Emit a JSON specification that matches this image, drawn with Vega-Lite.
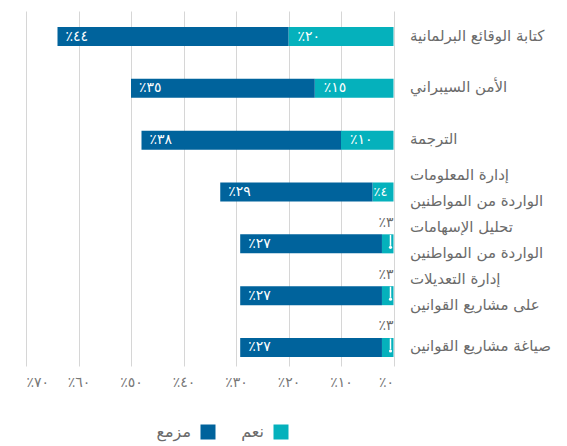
{
  "$schema": "https://vega.github.io/schema/vega-lite/v6.json",
  "width": 367.5,
  "height": 355,
  "autosize": {"type": "none"},
  "padding": {"left": 26, "top": 11, "right": 173.5, "bottom": 80},
  "config": {"view": {"stroke": null}, "font": "DejaVu Sans"},
  "data": {
    "values": [
      {"cat": "كتابة الوقائع البرلمانية", "series": "نعم", "value": 20, "label": "٪٢٠"},
      {"cat": "كتابة الوقائع البرلمانية", "series": "مزمع", "value": 44, "label": "٪٤٤"},
      {"cat": "الأمن السيبراني", "series": "نعم", "value": 15, "label": "٪١٥"},
      {"cat": "الأمن السيبراني", "series": "مزمع", "value": 35, "label": "٪٣٥"},
      {"cat": "الترجمة", "series": "نعم", "value": 10, "label": "٪١٠"},
      {"cat": "الترجمة", "series": "مزمع", "value": 38, "label": "٪٣٨"},
      {"cat": "إدارة المعلومات\nالواردة من المواطنين", "series": "نعم", "value": 4, "label": "٪٤"},
      {"cat": "إدارة المعلومات\nالواردة من المواطنين", "series": "مزمع", "value": 29, "label": "٪٢٩"},
      {"cat": "تحليل الإسهامات\nالواردة من المواطنين", "series": "نعم", "value": 2.2, "label": "٪٣"},
      {"cat": "تحليل الإسهامات\nالواردة من المواطنين", "series": "مزمع", "value": 27, "label": "٪٢٧"},
      {"cat": "إدارة التعديلات\nعلى مشاريع القوانين", "series": "نعم", "value": 2.2, "label": "٪٣"},
      {"cat": "إدارة التعديلات\nعلى مشاريع القوانين", "series": "مزمع", "value": 27, "label": "٪٢٧"},
      {"cat": "صياغة مشاريع القوانين", "series": "نعم", "value": 2.2, "label": "٪٣"},
      {"cat": "صياغة مشاريع القوانين", "series": "مزمع", "value": 27, "label": "٪٢٧"}
    ]
  },
  "transform": [
    {"stack": "value", "groupby": ["cat"], "sort": [{"field": "series", "order": "descending"}], "as": ["v0", "v1"]}
  ],
  "encoding": {
    "y": {
      "field": "cat",
      "type": "nominal",
      "sort": null,
      "scale": {"paddingInner": 0.633, "paddingOuter": 0.241, "align": 0.64},
      "axis": {
        "orient": "right",
        "title": null,
        "domain": false,
        "ticks": false,
        "labelAlign": "left",
        "labelPadding": 16,
        "labelFontSize": 15,
        "labelColor": "#6b6b6b",
        "labelLineHeight": 26,
        "labelLimit": 0,
        "labelOffset": {"condition": {"test": "indexof(datum.label, '\\n') >= 0", "value": -17}, "value": -1},
        "labelExpr": "split(datum.label, '\\n')"
      }
    }
  },
  "layer": [
    {
      "mark": {"type": "bar"},
      "encoding": {
        "x": {
          "field": "v0",
          "type": "quantitative",
          "scale": {"domain": [0, 70], "reverse": true, "nice": false},
          "axis": {
            "title": null,
            "values": [0, 10, 20, 30, 40, 50, 60, 70],
            "domain": false,
            "ticks": false,
            "grid": true,
            "gridColor": "#d6d6d6",
            "gridWidth": 1,
            "labelFontSize": 14,
            "labelColor": "#777777",
            "labelPadding": 9,
            "labelExpr": "'٪' + ['٠','١٠','٢٠','٣٠','٤٠','٥٠','٦٠','٧٠'][round(datum.value/10)]"
          }
        },
        "x2": {"field": "v1"},
        "color": {
          "field": "series",
          "type": "nominal",
          "scale": {"domain": ["مزمع", "نعم"], "range": ["#00639c", "#05b1bc"]},
          "legend": {
            "title": null,
            "orient": "none",
            "legendX": 174,
            "legendY": 413,
            "direction": "horizontal",
            "symbolType": "square",
            "symbolSize": 225,
            "symbolStrokeWidth": 0,
            "labelFontSize": 16,
            "labelColor": "#6b6b6b",
            "labelAlign": "right",
            "labelOffset": -25,
            "columnPadding": 25
          }
        }
      }
    },
    {
      "transform": [{"filter": "datum.series == 'مزمع'"}],
      "mark": {"type": "text", "align": "left", "dx": 8, "color": "white", "fontSize": 14},
      "encoding": {"x": {"field": "v1", "type": "quantitative"}, "text": {"field": "label"}}
    },
    {
      "transform": [{"filter": "datum.series == 'نعم' && datum.value >= 10"}],
      "mark": {"type": "text", "align": "left", "dx": 9, "color": "white", "fontSize": 14},
      "encoding": {"x": {"field": "v1", "type": "quantitative"}, "text": {"field": "label"}}
    },
    {
      "transform": [{"filter": "datum.series == 'نعم' && datum.value >= 3.5 && datum.value < 10"}],
      "mark": {"type": "text", "align": "left", "dx": 1, "color": "white", "fontSize": 13},
      "encoding": {"x": {"field": "v1", "type": "quantitative"}, "text": {"field": "label"}}
    },
    {
      "transform": [{"filter": "datum.series == 'نعم' && datum.value < 3.5"}],
      "mark": {"type": "text", "align": "right", "dy": -21, "color": "#6b6b6b", "fontSize": 14},
      "encoding": {"x": {"field": "v0", "type": "quantitative"}, "text": {"field": "label"}}
    },
    {
      "transform": [{"filter": "datum.series == 'نعم' && datum.value < 3.5"}],
      "mark": {"type": "tick", "orient": "vertical", "color": "white", "size": 11, "thickness": 1.5, "xOffset": -3, "yOffset": -3.5, "opacity": 1},
      "encoding": {"x": {"field": "v0", "type": "quantitative"}}
    },
    {
      "transform": [{"filter": "datum.series == 'نعم' && datum.value < 3.5"}],
      "mark": {"type": "circle", "color": "white", "size": 10, "xOffset": -3, "yOffset": 3.5, "opacity": 1},
      "encoding": {"x": {"field": "v0", "type": "quantitative"}}
    }
  ]
}
